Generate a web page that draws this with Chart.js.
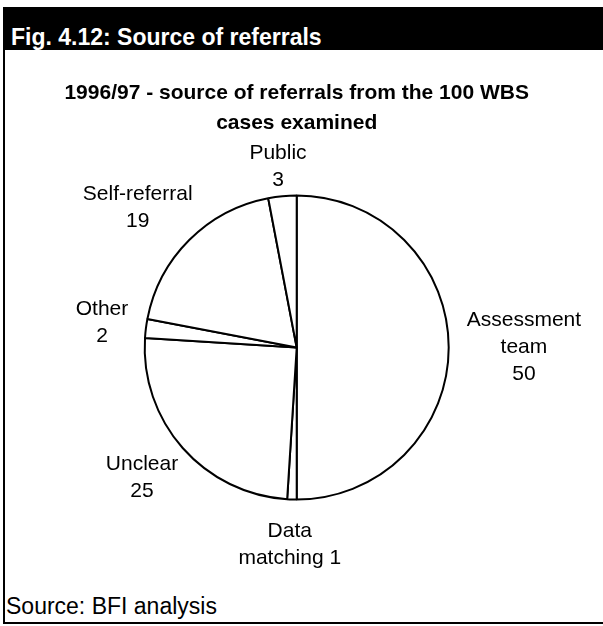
<!DOCTYPE html>
<html lang="en">
<head>
    <meta charset="UTF-8">
    <title>Source of referrals</title>
    <style>
        body {
            margin: 0;
            width: 603px;
            height: 626px;
            overflow: hidden;
            background: #fff;
            font-family: "Liberation Sans", Arial, sans-serif;
        }
        #frame {
            position: absolute;
            left: 3px;
            top: 7px;
            width: 700px;
            height: 615px;
            border-left: 2px solid #000;
            border-bottom: 2px solid #000;
        }
        #head {
            box-sizing: border-box;
            margin-left: -2px;
            height: 43px;
            padding: 17px 0 0 8px;
            background: #000;
            color: #fff;
            font-weight: bold;
            font-size: 23px;
            line-height: normal;
        }
        #source {
            position: absolute;
            left: 6px;
            top: 593px;
            font-size: 23px;
            line-height: normal;
        }
        canvas {
            position: absolute;
            left: 0;
            top: 0;
        }
    </style>
</head>
<body>
    <div id="frame"><div id="head">Fig. 4.12: Source of referrals</div></div>
    <div id="source">Source: BFI analysis</div>
    <canvas id="referrals-chart" width="603" height="626"></canvas>

    <script src="https://cdn.jsdelivr.net/npm/chart.js"></script>
    <script>
        const categories = ['Assessment team', 'Data matching', 'Unclear', 'Other', 'Self-referral', 'Public'];
        const referrals = [50, 1, 25, 2, 19, 3];
        // how each category name is broken over lines next to its slice
        const labelLines = [['Assessment', 'team'], ['Data', 'matching'], ['Unclear'], ['Other'], ['Self-referral'], ['Public']];
        const valueOnSameLine = [false, true, false, false, false, false];
        const subtitleLines = ['1996/97 - source of referrals from the 100 WBS', 'cases examined'];

        Chart.defaults.font.family = '"Liberation Sans", Arial, sans-serif';
        Chart.defaults.color = '#000';

        // category + value text placed just outside each slice
        const outsideLabels = {
            id: 'outsideLabels',
            afterDatasetsDraw(chart) {
                const ctx = chart.ctx;
                const meta = chart.getDatasetMeta(0);
                const lineH = 27;
                const gap = 18;

                // labels are not allowed to climb into the title text
                const tb = chart.titleBlock;
                const titleBottom = tb.top + Chart.helpers.toPadding(tb.options.padding).top +
                    tb.options.text.length * Chart.helpers.toFont(tb.options.font).lineHeight + 2;

                ctx.save();
                ctx.font = '21px "Liberation Sans", Arial, sans-serif';
                ctx.fillStyle = '#000';
                ctx.textAlign = 'center';
                ctx.textBaseline = 'middle';
                meta.data.forEach((arc, i) => {
                    const p = arc.getProps(['x', 'y', 'startAngle', 'endAngle', 'outerRadius'], true);
                    const mid = (p.startAngle + p.endAngle) / 2;
                    const dx = Math.cos(mid);
                    const dy = Math.sin(mid);

                    const lines = labelLines[i].slice();
                    const value = String(chart.data.datasets[0].data[i]);
                    if (valueOnSameLine[i]) {
                        lines[lines.length - 1] += ' ' + value;
                    } else {
                        lines.push(value);
                    }

                    const halfW = Math.max(...lines.map(l => ctx.measureText(l).width)) / 2;
                    const halfH = lines.length * lineH / 2;
                    const cx = p.x + dx * (p.outerRadius + gap) + dx * halfW;
                    const cy = p.y + dy * (p.outerRadius + gap) + dy * halfH;
                    const top = Math.max(cy - halfH, titleBottom);

                    lines.forEach((line, k) => {
                        ctx.fillText(line, cx, top + lineH / 2 + k * lineH);
                    });
                });
                ctx.restore();
            }
        };

        new Chart(document.getElementById('referrals-chart'), {
            type: 'pie',
            data: {
                labels: categories,
                datasets: [{
                    data: referrals,
                    backgroundColor: '#fff',
                    borderColor: '#000',
                    borderWidth: 2
                }]
            },
            options: {
                responsive: false,
                animation: false,
                events: [],
                // wide, short chart area: the pie takes its size from the height
                layout: {
                    padding: { left: 0, right: 9.6, top: 0, bottom: 125.5 }
                },
                plugins: {
                    legend: { display: false },
                    tooltip: { enabled: false },
                    title: {
                        display: true,
                        text: subtitleLines,
                        color: '#000',
                        font: { size: 21, weight: 'bold', lineHeight: 1.4 },
                        padding: { top: 79, bottom: 56.7 }
                    }
                }
            },
            plugins: [outsideLabels]
        });
    </script>
</body>
</html>
